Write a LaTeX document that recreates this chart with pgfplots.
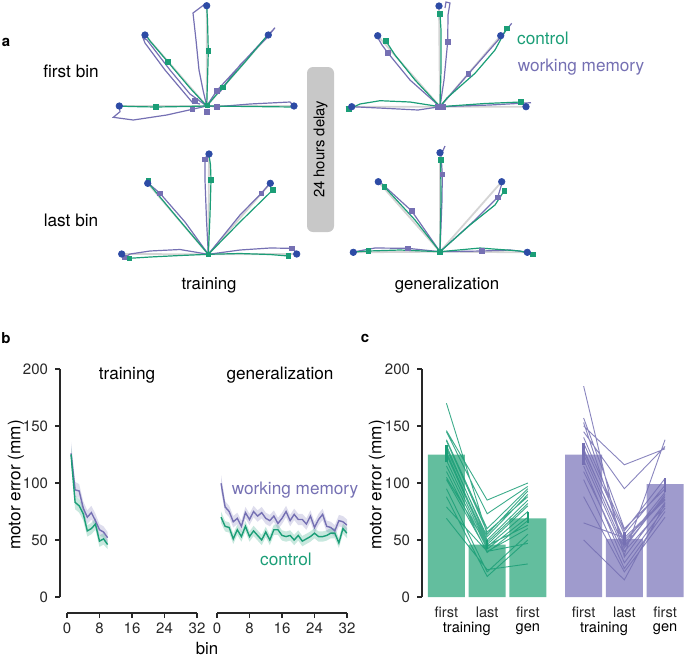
\documentclass[border=0pt]{standalone}
\usepackage{pgfplots}
\pgfplotsset{compat=1.18}
\usepackage{pgfplotstable}
\usepackage{fontspec}
\setmainfont{TeX Gyre Heros}
\definecolor{cg}{RGB}{27,158,119}
\definecolor{cp}{RGB}{117,112,179}
\definecolor{bg}{RGB}{99,190,158}
\definecolor{bp}{RGB}{159,155,205}
\definecolor{cb}{RGB}{45,75,165}
\definecolor{refg}{RGB}{212,212,212}
\definecolor{boxg}{RGB}{200,200,200}
\definecolor{ax}{RGB}{40,40,40}
\newcommand\fs[1]{\fontsize{#1}{#1}\selectfont}

\pgfplotstableread{
bin wm c
1 126 125
2 94 83
3 93 80
4 78 73
5 70 58
6 74 60
7 67 64
8 59 49
9 57 51
10 52 46
}\trainT

\pgfplotstableread{
bin wm c
1 99.7 70
2 79 62
3 75 61
4 66 51
5 69 59
6 62 53
7 74 62
8 68 53
9 75 58
10 71 54
11 74 50
12 69 57
13 67 50
14 71 59
15 64.5 59
16 69 54
17 75 53
18 67 54
19 72.5 50
20 68 54
21 68 49
22 64 51
23 71 53
24 61 56
25 68 53
26 72.5 53
27 62 54
28 61 56
29 58 56
30 67 47.5
31 66 60
32 63 56
}\genT

\pgfplotsset{
  common/.style={
    scale only axis,
    tick label style={font=\fs{7.5}, text=ax},
    /pgf/number format/assume math mode=true,
    axis line style={ax, line width=0.6pt},
    tick style={ax, line width=0.6pt},
    tick align=outside,
    major tick length=2.5pt,
  },
  traj/.style={line width=0.6pt, unbounded coords=jump},
  tgt/.style={only marks, mark=*, mark size=1.6pt, mark options={fill=cb, draw=cb}},
  sqg/.style={only marks, mark=square*, mark size=1.2pt, mark options={fill=cg, draw=cg}},
  sqp/.style={only marks, mark=square*, mark size=1.2pt, mark options={fill=cp, draw=cp}},
}

\begin{document}
\begin{tikzpicture}
\useasboundingbox (0,0) rectangle (342.5pt,327.5pt);

% ---------- canvas axis (panel a + texts), pixel coordinates ----------
\begin{axis}[at={(0pt,0pt)}, anchor=south west, scale only axis,
  width=342.5pt, height=327.5pt, xmin=0, xmax=685, ymin=0, ymax=655,
  y dir=reverse, hide axis, clip=false]
\fill[boxg, rounded corners=3pt] (axis cs:307,67) rectangle (axis cs:334,232);
\node[rotate=90, font=\fs{7.4}] at (axis cs:320.5,149.5) {24 hours delay};

\addplot[refg, line width=0.9pt] coordinates {(206.7,106)(206.7,5.7)(206.7,106)(145,35)(206.7,106)(268.3,35)(206.7,106)(119.3,106)(206.7,106)(294,106)};
\addplot[refg, line width=0.9pt] coordinates {(208.3,254.3)(209,154)(208.3,254.3)(147.7,183.3)(208.3,254.3)(270.3,183.3)(208.3,254.3)(121.7,254)(208.3,254.3)(296.7,254)};
\addplot[refg, line width=0.9pt] coordinates {(440,106.7)(439,6)(440,106.7)(377.7,35.7)(440,106.7)(500.7,35.7)(440,106.7)(351.7,106.7)(440,106.7)(526,106.7)};
\addplot[refg, line width=0.9pt] coordinates {(440,251.7)(440,152.7)(440,251.7)(378.3,181.7)(440,251.7)(501.7,181.7)(440,251.7)(353.3,252.3)(440,251.7)(527.3,252.3)};

% star 1: training, first bin
\addplot[cp, traj] coordinates {
(206.7,106)(203,90)(199,70)(196,40)(193,13)(205,4) (205,nan)
(206.7,106)(190,94)(170,70)(147,40)(143,38)(145,43)(165,70)(192,102)(200,104) (200,nan)
(206.7,106)(216.7,90.7)(245,60)(275,27.7)(266.7,38)(240,65)(220,92) (220,nan)
(206.7,106)(192.3,109.3)(166.7,115)(133.3,120)(113.3,117.3)(120,111.7)(119.3,106) (119,nan)
(206.7,106)(217,106.7)(250,104)(290,102)(294,106)};
\addplot[cg, traj] coordinates {
(206.7,106)(207.8,70)(208.3,51)(207.5,20)(206.7,6) (206,nan)
(206.7,106)(190,88)(167.7,61.7)(150,41)(146.7,36) (146,nan)
(206.7,106)(222.7,87.3)(245,62)(266,37) (266,nan)
(206.7,106)(185,106.5)(155.7,107)(130,106.5)(119.3,106) (119,nan)
(206.7,106)(250,106.5)(293.3,107)};
\addplot[sqp] coordinates {(195,100.7)(216.7,90.7)(192.3,109.3)(217,106.7)(206.7,111.7)};
\addplot[sqg] coordinates {(208.3,51)(167.7,61.7)(222.7,87.3)(155.7,107)(207.3,105.3)};
\addplot[tgt] coordinates {(206.7,5.7)(145,35)(268.3,35)(119.3,106)(294,106)};

% star 2: training, last bin
\addplot[cp, traj] coordinates {
(208.3,254.3)(206.5,220)(205,180)(205,159.3)(207,155) (207,nan)
(208.3,254.3)(185,222)(160,193.3)(148,183) (148,nan)
(208.3,254.3)(240,215)(261.3,193.3)(270,183.3) (270,nan)
(208.3,254.3)(180,249.5)(150,251)(130,254)(125,257.3) (125,nan)
(208.3,254.3)(240,250)(270,248)(292,248.3)(296,252)};
\addplot[cg, traj] coordinates {
(208.3,254.3)(210,215)(211,180)(210.5,165)(209,155) (209,nan)
(208.3,254.3)(175,215)(150,185)(148.3,180.7) (148,nan)
(208.3,254.3)(240,222)(272.7,190) (272,nan)
(208.3,254.3)(180,255.5)(150,257)(129.3,258.3) (129,nan)
(208.3,254.3)(240,253.5)(270,254.5)(288.3,256)};
\addplot[sqp] coordinates {(205,159.3)(160,193.3)(261.3,193.3)(125,257.3)(292,248.3)};
\addplot[sqg] coordinates {(211,180)(148.3,180.7)(272.7,190)(129.3,258.3)(288.3,256)(208.3,254.3)};
\addplot[tgt] coordinates {(209,154)(147.7,183.3)(270.3,183.3)(121.7,254)(296.7,254)};

% star 3: generalization, first bin
\addplot[cp, traj] coordinates {
(440,106.7)(444,80)(447.7,41.7)(448,15)(450,3)(446,2)(445,8) (445,nan)
(440,106.7)(410,80)(387.7,52.7)(382,45)(378,38) (378,nan)
(440,106.7)(468.3,74)(500,38)(511.7,23.3) (511,nan)
(440,106.7)(418,110)(385,108.3)(352,106.7)(346,107) (346,nan)
(440,106.7)(490,105)(531,102.7)};
\addplot[cg, traj] coordinates {
(440,106.7)(441,70)(441,30)(440,14) (440,nan)
(440,106.7)(415,80)(395,55)(385.7,40.7) (385,nan)
(440,106.7)(447,98)(475,73.3)(495,50)(506.7,28.3) (506,nan)
(440,106.7)(410,102)(380,100.7)(360,104)(349,109) (349,nan)
(440,106.7)(485,103.5)(520.7,102)};
\addplot[sqp] coordinates {(447.7,41.7)(387.7,52.7)(468.3,74)(438,106.7)(443,106.7)};
\addplot[sqg] coordinates {(440,14)(385.7,40.7)(506.7,28.3)(349,109)(520.7,102)};
\addplot[tgt] coordinates {(439,6)(377.7,35.7)(500.7,35.7)(351.7,106.7)(526,106.7)};

% star 4: generalization, last bin
\addplot[cp, traj] coordinates {
(440,251.7)(442,200)(442.3,174.3)(441,155)(445,146) (445,nan)
(440,251.7)(411.7,211)(380,182) (380,nan)
(440,251.7)(475,220)(497.7,197.3)(502,183) (502,nan)
(440,251.7)(407.7,248.3)(375,248)(353,252) (353,nan)
(440,251.7)(481.7,251)(510,250)(527,252)};
\addplot[cg, traj] coordinates {
(440,251.7)(441,200)(440.7,160) (440,nan)
(440,251.7)(415,220)(384.3,186.7) (384,nan)
(440,251.7)(470,225)(495,205)(504.3,190.7) (504,nan)
(440,251.7)(400,250)(368.3,251)(353,252) (353,nan)
(440,251.7)(480,248)(520,251)(532.7,254.3)};
\addplot[sqp] coordinates {(442.3,174.3)(411.7,211)(497.7,197.3)(407.7,248.3)(481.7,251)};
\addplot[sqg] coordinates {(440.7,160)(384.3,186.7)(504.3,190.7)(368.3,251)(532.7,254.3)(440,251.7)};
\addplot[tgt] coordinates {(440,152.7)(378.3,181.7)(501.7,181.7)(353.3,252.3)(527.3,252.3)};

% panel a texts
\node[font=\bfseries\fs{7.5}] at (axis cs:6,42) {a};
\node[font=\fs{8.6}] at (axis cs:71,71) {first bin};
\node[font=\fs{8.6}] at (axis cs:71,220) {last bin};
\node[font=\fs{8.4}] at (axis cs:209,285) {training};
\node[font=\fs{8.4}] at (axis cs:447,285) {generalization};
\node[font=\fs{8.6}, text=cg] at (axis cs:543,38) {control};
\node[font=\fs{8.6}, text=cp] at (axis cs:581,67) {working memory};

% panel b texts
\node[font=\bfseries\fs{7.5}] at (axis cs:6,338) {b};
\node[font=\fs{8.6}] at (axis cs:127,375) {training};
\node[font=\fs{8.6}] at (axis cs:280,375) {generalization};
\node[rotate=90, font=\fs{8.6}] at (axis cs:16,485) {motor error (mm)};
\node[font=\fs{8.6}, text=cp] at (axis cs:295,490) {working memory};
\node[font=\fs{8.6}, text=cg] at (axis cs:286,559) {control};
\node[font=\fs{8.4}] at (axis cs:207,648) {bin};

% panel c texts
\node[font=\bfseries\fs{7.5}] at (axis cs:365,338) {c};
\node[rotate=90, font=\fs{8.6}] at (axis cs:377,485) {motor error (mm)};
\end{axis}

% ---------- panel b: training ----------
\begin{axis}[common, at={(30pt,29pt)}, anchor=south west,
  width=68.5pt, height=114pt, xmin=-1.72, xmax=32, ymin=0, ymax=200,
  axis lines*=left, x axis line style={draw=none}, xtick=\empty,
  ytick={0,50,100,150,200}]
\addplot[fill=cp, fill opacity=0.24, draw=none] coordinates {
(1,136)(2,101)(3,99)(4,84)(5,76)(6,80)(7,73)(8,64)(9,62)(10,57)
(10,47)(9,52)(8,54)(7,61)(6,68)(5,64)(4,72)(3,87)(2,88)(1,117)} -- cycle;
\addplot[fill=cg, fill opacity=0.24, draw=none] coordinates {
(1,133)(2,89)(3,86)(4,79)(5,63)(6,65)(7,69)(8,54)(9,56)(10,50)
(10,42)(9,46)(8,44)(7,59)(6,55)(5,53)(4,67)(3,74)(2,77)(1,117)} -- cycle;
\addplot[cp, line width=0.7pt] table[x=bin, y=wm] {\trainT};
\addplot[cg, line width=0.7pt] table[x=bin, y=c] {\trainT};
\end{axis}

% ---------- panel b: generalization ----------
\begin{axis}[common, at={(108.5pt,29pt)}, anchor=south west,
  width=65pt, height=114pt, xmin=0, xmax=32, ymin=0, ymax=200, hide axis]
\addplot[fill=cp, fill opacity=0.24, draw=none] coordinates {
(1,107)(2,84)(3,80)(4,71)(5,74)(6,67)(7,79)(8,73)(9,80)(10,76)(11,79)(12,74)(13,72)(14,76)(15,69.5)(16,74)
(17,80)(18,72)(19,77.5)(20,73)(21,73)(22,69)(23,76)(24,66)(25,73)(26,77.5)(27,67)(28,66)(29,63)(30,72)(31,71)(32,68)
(32,58)(31,61)(30,62)(29,53)(28,56)(27,57)(26,67.5)(25,63)(24,56)(23,66)(22,59)(21,63)(20,63)(19,67.5)(18,62)(17,70)
(16,64)(15,59.5)(14,66)(13,62)(12,64)(11,69)(10,66)(9,70)(8,63)(7,69)(6,57)(5,64)(4,61)(3,70)(2,74)(1,93)} -- cycle;
\addplot[fill=cg, fill opacity=0.24, draw=none] coordinates {
(1,75)(2,66.5)(3,65.5)(4,55.5)(5,63.5)(6,57.5)(7,66.5)(8,57.5)(9,62.5)(10,58.5)(11,54.5)(12,61.5)(13,54.5)(14,63.5)(15,63.5)(16,58.5)
(17,57.5)(18,58.5)(19,54.5)(20,58.5)(21,53.5)(22,55.5)(23,57.5)(24,60.5)(25,57.5)(26,57.5)(27,58.5)(28,60.5)(29,60.5)(30,52)(31,64.5)(32,60.5)
(32,51.5)(31,55.5)(30,43)(29,51.5)(28,51.5)(27,49.5)(26,48.5)(25,48.5)(24,51.5)(23,48.5)(22,46.5)(21,44.5)(20,49.5)(19,45.5)(18,49.5)(17,48.5)
(16,49.5)(15,54.5)(14,54.5)(13,45.5)(12,52.5)(11,45.5)(10,49.5)(9,53.5)(8,48.5)(7,57.5)(6,48.5)(5,54.5)(4,46.5)(3,56.5)(2,57.5)(1,65)} -- cycle;
\addplot[cp, line width=0.7pt] table[x=bin, y=wm] {\genT};
\addplot[cg, line width=0.7pt] table[x=bin, y=c] {\genT};
\end{axis}

% ---------- panel b: detached bin axes ----------
\begin{axis}[common, at={(33.5pt,21pt)}, anchor=south west,
  width=65pt, height=10pt, xmin=0, xmax=32, ymin=0, ymax=1,
  axis lines*=left, y axis line style={draw=none}, ytick=\empty,
  xtick={0,8,16,24,32}, xticklabel style={yshift=1pt}]
\addplot[draw=none] coordinates {(0,0)(32,1)};
\end{axis}
\begin{axis}[common, at={(108.5pt,21pt)}, anchor=south west,
  width=65pt, height=10pt, xmin=0, xmax=32, ymin=0, ymax=1,
  axis lines*=left, y axis line style={draw=none}, ytick=\empty,
  xtick={0,8,16,24,32}, xticklabel style={yshift=1pt}]
\addplot[draw=none] coordinates {(0,0)(32,1)};
\end{axis}

% ---------- panel c ----------
\begin{axis}[common, at={(211pt,29pt)}, anchor=south west,
  width=131.3pt, height=114pt, xmin=-0.6, xmax=5.85, ymin=0, ymax=200,
  axis lines*=left, x axis line style={draw=none},
  xtick style={draw=none}, ytick={0,50,100,150,200},
  xtick={0,1,2,3.37,4.37,5.37},
  xticklabels={first,last,first,first,last,first},
  xticklabel style={font=\fs{7.3}, yshift=1pt},
  clip=false]
\addplot[ybar, bar width=0.91, bar shift=0pt, fill=bg, draw=none] coordinates {(0,125) (1,46) (2,69)};
\addplot[ybar, bar width=0.91, bar shift=0pt, fill=bp, draw=none] coordinates {(3.37,125) (4.37,51) (5.37,99)};
\addplot[cg, line width=1.2pt, unbounded coords=jump] coordinates {(0,118)(0,133)(0,nan)(1,42)(1,50)(1,nan)(2,65)(2,74.5)};
\addplot[cp, line width=1.2pt, unbounded coords=jump] coordinates {(3.37,116)(3.37,135)(3.37,nan)(4.37,46)(4.37,57)(4.37,nan)(5.37,92)(5.37,104)};
\addplot[cg, line width=0.45pt, opacity=0.85, unbounded coords=jump] coordinates {
(0,170)(1,55)(2,93)(2,nan)
(0,146)(1,85)(2,100)(2,nan)
(0,145)(1,73)(2,97)(2,nan)
(0,138)(1,60)(2,95)(2,nan)
(0,137)(1,57)(2,88)(2,nan)
(0,133)(1,50)(2,85)(2,nan)
(0,130)(1,53)(2,90)(2,nan)
(0,127)(1,48)(2,82)(2,nan)
(0,125)(1,46)(2,80)(2,nan)
(0,120)(1,44)(2,75)(2,nan)
(0,115)(1,42)(2,70)(2,nan)
(0,110)(1,39)(2,67)(2,nan)
(0,105)(1,45)(2,63)(2,nan)
(0,103)(1,40)(2,60)(2,nan)
(0,95)(1,22)(2,55)(2,nan)
(0,88)(1,18)(2,50)(2,nan)
(0,79)(1,40)(2,47)(2,nan)
(0,69)(1,24)(2,29)};
\addplot[cp, line width=0.45pt, opacity=0.85, unbounded coords=jump] coordinates {
(3.37,185)(4.37,35)(5.37,83)(5.37,nan)
(3.37,157)(4.37,60)(5.37,95)(5.37,nan)
(3.37,153)(4.37,45)(5.37,88)(5.37,nan)
(3.37,150)(4.37,116)(5.37,130)(5.37,nan)
(3.37,145)(4.37,95)(5.37,132)(5.37,nan)
(3.37,140)(4.37,58)(5.37,104)(5.37,nan)
(3.37,135)(4.37,55)(5.37,98)(5.37,nan)
(3.37,130)(4.37,47)(5.37,92)(5.37,nan)
(3.37,128)(4.37,50)(5.37,85)(5.37,nan)
(3.37,125)(4.37,43)(5.37,90)(5.37,nan)
(3.37,120)(4.37,40)(5.37,80)(5.37,nan)
(3.37,115)(4.37,30)(5.37,78)(5.37,nan)
(3.37,110)(4.37,37)(5.37,138)(5.37,nan)
(3.37,103)(4.37,25)(5.37,75)(5.37,nan)
(3.37,88)(4.37,22)(5.37,70)(5.37,nan)
(3.37,65)(4.37,52)(5.37,86)(5.37,nan)
(3.37,50)(4.37,15)(5.37,82)};
\node[font=\fs{7.3}] at (axis cs:0.5,-28) {training};
\node[font=\fs{7.3}] at (axis cs:2,-28) {gen};
\node[font=\fs{7.3}] at (axis cs:3.87,-28) {training};
\node[font=\fs{7.3}] at (axis cs:5.37,-28) {gen};
\end{axis}
\end{tikzpicture}
\end{document}
